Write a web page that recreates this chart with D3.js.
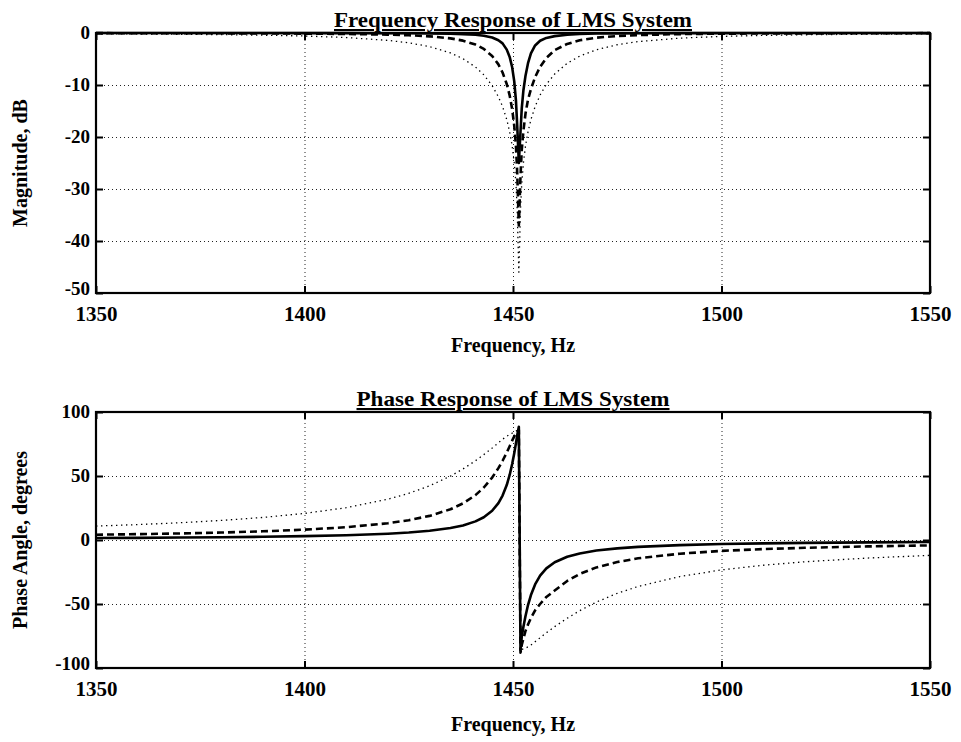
<!DOCTYPE html>
<html>
<head>
<meta charset="utf-8">
<script src="https://cdn.jsdelivr.net/npm/d3@7"></script>
<style>
  body { margin: 0; background: #fff; }
  text { font-family: "Liberation Serif", "Times New Roman", serif; font-weight: bold; fill: #000; }
</style>
</head>
<body>
<div id="chart"></div>
<script>
const freqs = [1350, 1360, 1370, 1380, 1390, 1400, 1410, 1420,
  1425, 1430, 1435, 1438, 1441, 1443, 1445,
  1446.5, 1447.5, 1448.5, 1449.2, 1449.8,
  1450.3, 1450.7, 1451.0, 1451.4, 1451.8,
  1452.1, 1452.5, 1453, 1453.6, 1454.3,
  1455.3, 1456.5, 1458, 1460, 1463,
  1466, 1470, 1475, 1480, 1490,
  1500, 1510, 1520, 1535, 1550];

// Magnitude, dB
const magSolid = [0, 0, 0, -0.01, -0.01, -0.02, -0.02, -0.04,
  -0.06, -0.09, -0.14, -0.21, -0.35, -0.52, -0.86,
  -1.4, -2.0, -3.2, -4.6, -6.6,
  -9.3, -12.9, -17.6, -25, -19,
  -14.5, -11, -8.2, -5.8, -3.9,
  -2.4, -1.5, -0.95, -0.6, -0.33,
  -0.18, -0.11, -0.07, -0.05, -0.03,
  -0.02, -0.01, -0.01, 0, 0];
const magDashed = [-0.03, -0.04, -0.05, -0.06, -0.08, -0.12, -0.18, -0.31,
  -0.43, -0.64, -1.03, -1.47, -2.22, -3.06, -4.41,
  -6.03, -7.6, -9.82, -12.0, -14.65,
  -17.83, -21.7, -26.6, -37, -27.5,
  -22.5, -18.8, -15.5, -12.8, -10.8,
  -8.5, -6.5, -4.8, -3.3, -2.1,
  -1.4, -0.9, -0.58, -0.4, -0.21,
  -0.13, -0.09, -0.07, -0.05, -0.03];
const magDotted = [-0.16, -0.19, -0.24, -0.31, -0.42, -0.58, -0.87, -1.42,
  -1.89, -2.62, -3.83, -4.94, -6.54, -8.05, -10.12,
  -12.26, -14.15, -16.64, -19.0, -21.7,
  -25.0, -28.9, -33.8, -46, -33.8,
  -28.9, -25.0, -21.7, -19.0, -16.64,
  -14.15, -11.93, -9.88, -7.88, -5.83,
  -4.44, -3.22, -2.26, -1.66, -0.99,
  -0.65, -0.46, -0.34, -0.23, -0.17];

// Phase angle, degrees
const phaseSolid = [1.53, 1.69, 1.9, 2.17, 2.52, 3.01, 3.73, 4.91,
  5.84, 7.19, 9.35, 11.39, 14.55, 17.8, 22.87,
  28.85, 34.7, 42.95, 50.8, 59.35,
  67.83, 75.47, 81.57, 88.5, -86,
  -75.5, -67.8, -59.4, -50.8, -43.0,
  -34.7, -27.9, -22.2, -17.4, -13.1,
  -10.5, -8.26, -6.53, -5.39, -4.0,
  -3.18, -2.64, -2.25, -1.85, -1.57];
const phaseDashed = [4.12, 4.57, 5.12, 5.84, 6.78, 8.08, 10.0, 13.09,
  15.46, 18.83, 24.0, 28.58, 35.07, 41.0, 48.76,
  56.13, 61.9, 68.33, 73.2, 77.6,
  81.0, 83.0, 84.5, 86, -88,
  -82, -77, -71, -66, -61,
  -55, -50, -44.5, -39.5, -32,
  -26.5, -21.4, -17.2, -14.3, -10.7,
  -8.5, -7.1, -6.1, -5.0, -4.2];
const phaseDotted = [10.89, 12.04, 13.47, 15.28, 17.62, 20.78, 25.22, 31.84,
  36.45, 42.34, 49.93, 55.5, 61.93, 66.7, 71.83,
  75.9, 78.7, 81.0, 82.5, 83.5,
  84.5, 85, 85.5, 86, -86,
  -85.5, -85, -84.5, -83.5, -82.1,
  -79.5, -76.35, -72.5, -67.7, -61.1,
  -55.2, -48.5, -41.66, -36.3, -28.55,
  -23.37, -19.71, -17.02, -14.1, -12.02];

// Tick values
const xTicks = [1350, 1400, 1450, 1500, 1550];
const magTicks = [0, -10, -20, -30, -40, -50];
const phaseTicks = [100, 50, 0, -50, -100];

const width = 961;
const height = 742;
const left = 96, right = 930;
const serif = '"Liberation Serif", "Times New Roman", serif';

const svg = d3.select("#chart").append("svg")
  .attr("width", width)
  .attr("height", height)
  .style("background", "#fff");

const x = d3.scaleLinear().domain([1350, 1550]).range([left, right]);

const styles = {
  solid:  { width: 2.6, dash: null },
  dashed: { width: 2.6, dash: "7,4" },
  dotted: { width: 1.3, dash: "1.4,3.6" }
};

function panel(opts) {
  const y = d3.scaleLinear().domain(opts.domain).range([opts.bottom, opts.top]);
  const g = svg.append("g");
  const h = opts.bottom - opts.top;

  // dotted grid
  g.append("g")
    .attr("transform", `translate(0,${opts.bottom})`)
    .call(d3.axisBottom(x).tickValues(xTicks).tickSize(-h).tickFormat(""))
    .call(a => a.select(".domain").remove())
    .selectAll("line")
    .attr("stroke", "#222").attr("stroke-width", 1).attr("stroke-dasharray", "1,3");
  g.append("g")
    .attr("transform", `translate(${left},0)`)
    .call(d3.axisLeft(y).tickValues(opts.ticks).tickSize(-(right - left)).tickFormat(""))
    .call(a => a.select(".domain").remove())
    .selectAll("line")
    .attr("stroke", "#222").attr("stroke-width", 1).attr("stroke-dasharray", "1,3");

  // curves
  const line = d3.line().x((d, i) => x(freqs[i])).y(d => y(d));
  opts.series.forEach(s => {
    const st = styles[s.style];
    g.append("path")
      .datum(s.values)
      .attr("fill", "none")
      .attr("stroke", "#000")
      .attr("stroke-width", st.width)
      .attr("stroke-dasharray", st.dash)
      .attr("stroke-linejoin", "round")
      .attr("d", line);
  });

  // axes with inward ticks
  const bx = g.append("g")
    .attr("transform", `translate(0,${opts.bottom})`)
    .call(d3.axisBottom(x).tickValues(xTicks).tickSize(-7).tickPadding(13).tickFormat(d => String(d)));
  const tx = g.append("g")
    .attr("transform", `translate(0,${opts.top})`)
    .call(d3.axisTop(x).tickValues(xTicks).tickSize(-7).tickFormat(""));
  const ly = g.append("g")
    .attr("transform", `translate(${left},0)`)
    .call(d3.axisLeft(y).tickValues(opts.ticks).tickSize(-7).tickPadding(6).tickFormat(d => String(d)));
  const ry = g.append("g")
    .attr("transform", `translate(${right},0)`)
    .call(d3.axisRight(y).tickValues(opts.ticks).tickSize(-7).tickFormat(""));

  [bx, tx, ly, ry].forEach(a => {
    a.attr("font-family", serif);
    a.select(".domain").remove();
    a.selectAll("line").attr("stroke", "#000").attr("stroke-width", 2);
    a.selectAll("text").style("font-family", serif).style("font-weight", "bold");
  });
  bx.selectAll("text").style("font-size", "21px");
  ly.selectAll("text").style("font-size", "19px").attr("dy", "0.3em");
  // lowest y label sits a little higher, as in the source figure
  ly.selectAll(".tick").filter(d => d === opts.domain[0]).select("text").attr("dy", "0.1em");

  // frame
  g.append("rect")
    .attr("x", left).attr("y", opts.top)
    .attr("width", right - left).attr("height", h)
    .attr("fill", "none").attr("stroke", "#000").attr("stroke-width", 2.2);

  // title
  g.append("text")
    .attr("x", (left + right) / 2)
    .attr("y", opts.top - 6)
    .attr("text-anchor", "middle")
    .attr("textLength", opts.titleLength)
    .attr("lengthAdjust", "spacingAndGlyphs")
    .style("font-size", "21px")
    .style("text-decoration", "underline")
    .text(opts.title);

  // axis labels
  g.append("text")
    .attr("x", (left + right) / 2)
    .attr("y", opts.xLabelY)
    .attr("text-anchor", "middle")
    .style("font-size", "20px")
    .text("Frequency, Hz");
  g.append("text")
    .attr("transform", `translate(27,${(opts.top + opts.bottom) / 2}) rotate(-90)`)
    .attr("text-anchor", "middle")
    .style("font-size", "20px")
    .text(opts.yLabel);
}

panel({
  top: 33, bottom: 293, domain: [-50, 0], ticks: magTicks,
  title: "Frequency Response of LMS System", titleLength: 358,
  yLabel: "Magnitude, dB", xLabelY: 352,
  series: [
    { values: magDotted, style: "dotted" },
    { values: magDashed, style: "dashed" },
    { values: magSolid, style: "solid" }
  ]
});

panel({
  top: 412, bottom: 668, domain: [-100, 100], ticks: phaseTicks,
  title: "Phase Response of LMS System", titleLength: 313,
  yLabel: "Phase Angle, degrees", xLabelY: 731,
  series: [
    { values: phaseDotted, style: "dotted" },
    { values: phaseDashed, style: "dashed" },
    { values: phaseSolid, style: "solid" }
  ]
});
</script>
</body>
</html>
